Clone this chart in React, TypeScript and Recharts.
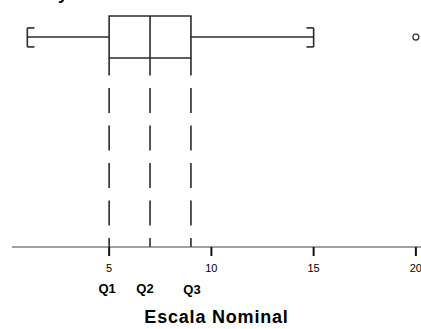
import React from 'react';
import { ComposedChart, XAxis, YAxis, ReferenceLine, ReferenceArea, Scatter } from 'recharts';

// Five-number summary (Escala Nominal)
const whiskerLow = 1;
const q1 = 5;
const median = 7;
const q3 = 9;
const whiskerHigh = 15;
const outliers = [20];

const xTicks = [5, 10, 15, 20];
const quartileValues = [q1, median, q3];
const quartileLabels = ['Q1', 'Q2', 'Q3'];
const axisTitle = 'Escala Nominal';

// vertical layout levels (fractions of plot height, 0 = axis)
const BOX_TOP = 0.935;
const WHISKER_Y = 0.85;
const BOX_BOTTOM = 0.765;
const CAP_TOP = 0.887;
const CAP_BOTTOM = 0.81;
const CAP_SERIF = 0.35;

const outlierData = outliers.map((x) => ({ x, y: WHISKER_Y }));

const INK = '#2b2b2b';
const FONT = '"Liberation Sans", Arial, sans-serif';

const QTick = (props: any) => {
  const { x, y, index } = props;
  const label = quartileLabels[index] ?? '';
  const shifts = [-2, -5, 1];
  const dys = [0, 0, 1];
  return (
    <text
      x={x + (shifts[index] ?? 0)}
      y={y + 8 + (dys[index] ?? 0)}
      textAnchor="middle"
      fontFamily={FONT}
      fontWeight="bold"
      fontSize={13}
      fill="#000"
    >
      {label}
    </text>
  );
};

const NumTick = (props: any) => {
  const { x, y, payload } = props;
  return (
    <text x={x} y={y + 14} textAnchor="middle" fontFamily={FONT} fontSize={11} fill="#000">
      {payload.value}
    </text>
  );
};

export default function App() {
  const seg = (x1: number, y1: number, x2: number, y2: number, key: string, extra: any = {}) => (
    <ReferenceLine
      key={key}
      segment={[
        { x: x1, y: y1 },
        { x: x2, y: y2 },
      ]}
      stroke={INK}
      strokeWidth={1.6}
      ifOverflow="visible"
      {...extra}
    />
  );

  return (
    <div style={{ position: 'absolute', left: 0, top: 0, width: 421, height: 329, overflow: 'hidden', background: '#fff' }}>
      <div
        style={{
          position: 'absolute',
          left: 58,
          top: -16,
          fontFamily: FONT,
          fontWeight: 'bold',
          fontSize: 18,
          lineHeight: '18px',
        }}
      >
        y
      </div>
      <ComposedChart width={421} height={329} margin={{ top: 0, right: 0, bottom: 0, left: 12 }}>
        <YAxis type="number" dataKey="y" domain={[0, 1]} hide />
        <XAxis
          xAxisId={0}
          type="number"
          dataKey="x"
          domain={[0.25, 20.25]}
          ticks={xTicks}
          allowDataOverflow
          height={30}
          axisLine={{ stroke: '#444', strokeWidth: 1 }}
          tickLine={{ stroke: '#111', strokeWidth: 2 }}
          tickSize={9}
          tick={<NumTick />}
          interval={0}
        />
        <XAxis
          xAxisId="q"
          type="number"
          dataKey="x"
          domain={[0.25, 20.25]}
          ticks={quartileValues}
          allowDataOverflow
          height={52}
          axisLine={false}
          tickLine={false}
          tick={<QTick />}
          interval={0}
          label={{
            value: axisTitle,
            position: 'insideBottom',
            offset: 6,
            style: { fontFamily: FONT, fontWeight: 'bold', fontSize: 18, fill: '#000', letterSpacing: 0.8 },
          }}
        />
        {/* dashed quartile guides */}
        {quartileValues.map((q, i) =>
          seg(q, BOX_BOTTOM, q, 0, `dash-${i}`, {
            strokeDasharray: '25 12.5',
            strokeDashoffset: 7.5,
          })
        )}
        {/* box */}
        <ReferenceArea
          x1={q1}
          x2={q3}
          y1={BOX_BOTTOM}
          y2={BOX_TOP}
          fill="none"
          fillOpacity={0}
          stroke={INK}
          strokeWidth={1.6}
          ifOverflow="visible"
        />
        {seg(median, BOX_BOTTOM, median, BOX_TOP, 'median')}
        {/* whiskers */}
        {seg(whiskerLow, WHISKER_Y, q1, WHISKER_Y, 'wl')}
        {seg(q3, WHISKER_Y, whiskerHigh, WHISKER_Y, 'wh')}
        {/* caps */}
        {seg(whiskerLow, CAP_BOTTOM, whiskerLow, CAP_TOP, 'capl')}
        {seg(whiskerLow, CAP_TOP, whiskerLow + CAP_SERIF, CAP_TOP, 'capl-t')}
        {seg(whiskerLow, CAP_BOTTOM, whiskerLow + CAP_SERIF, CAP_BOTTOM, 'capl-b')}
        {seg(whiskerHigh, CAP_BOTTOM, whiskerHigh, CAP_TOP, 'caph')}
        {seg(whiskerHigh - CAP_SERIF, CAP_TOP, whiskerHigh, CAP_TOP, 'caph-t')}
        {seg(whiskerHigh - CAP_SERIF, CAP_BOTTOM, whiskerHigh, CAP_BOTTOM, 'caph-b')}
        <Scatter
          data={outlierData}
          dataKey="y"
          isAnimationActive={false}
          shape={(p: any) => <circle cx={p.cx} cy={p.cy} r={3} fill="#fff" stroke={INK} strokeWidth={1.2} />}
        />
      </ComposedChart>
    </div>
  );
}
